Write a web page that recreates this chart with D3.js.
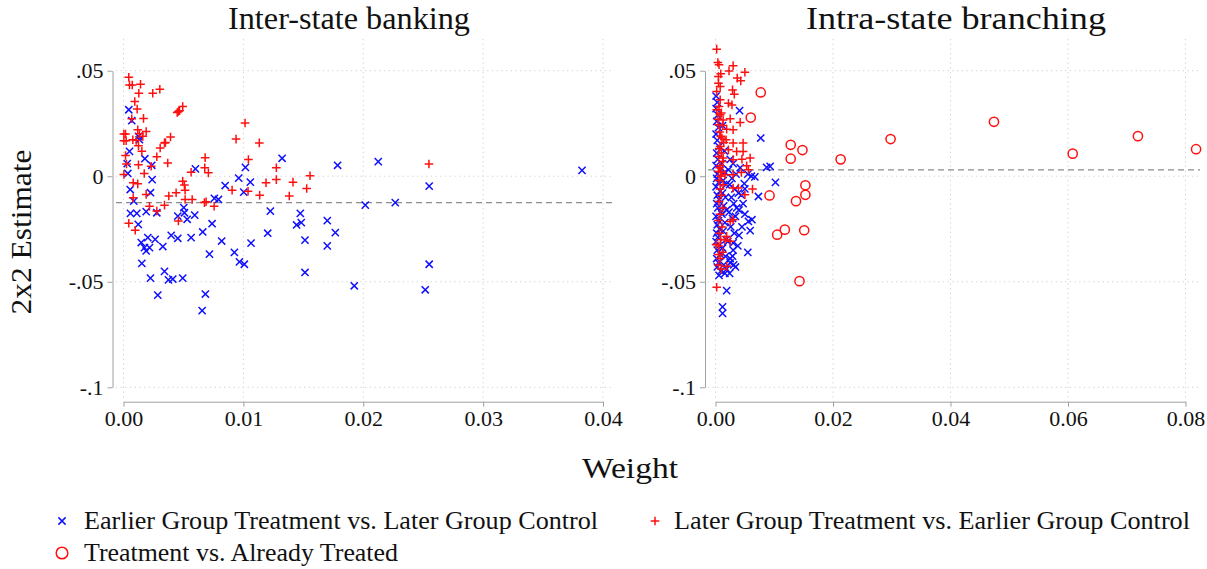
<!DOCTYPE html>
<html>
<head>
<meta charset="utf-8">
<script src="https://cdn.jsdelivr.net/npm/d3@7"></script>
<style>
  html, body { margin: 0; padding: 0; background: #fff; }
  svg { display: block; font-family: "Liberation Serif", "DejaVu Serif", serif; }
  svg text { font-family: "Liberation Serif", "DejaVu Serif", serif; }
</style>
</head>
<body>
<svg id="chart" width="1207" height="569"></svg>
<script>
// ==============================
// DATA  ([weight, 2x2 estimate])
// ==============================
const panelTitles = ["Inter-state banking", "Intra-state branching"];
const legendLabels = [
    "Earlier Group Treatment vs. Later Group Control",
    "Later Group Treatment vs. Earlier Group Control",
    "Treatment vs. Already Treated"
];

const yTicks = [0.05, 0, -0.05, -0.1];
const yTickLabels = [".05", "0", "-.05", "-.1"];
const leftXTicks = [0, 0.01, 0.02, 0.03, 0.04];
const rightXTicks = [0, 0.02, 0.04, 0.06, 0.08];

// weighted average (dashed line)
const leftAvg = -0.0125;
const rightAvg = 0.003;

const leftEarlier = [
    [.00044, .0315], [.00069, .0263], [.0005, .0118], [.00031, .0060], [.00036, .0013],
    [.00056, -.0063], [.00086, -.0118], [.00125, .0189], [.00133, .0173], [.00178, .0083],
    [.00236, .0052], [.00239, -.0016], [.00225, -.0078], [.00058, -.0176], [.00111, -.0176],
    [.00123, -.0228], [.00189, -.0168], [.00278, -.0173], [.00148, -.0314], [.00203, -.0291],
    [.00175, -.0338], [.00217, -.0338], [.00189, -.0354], [.00264, -.0299], [.00328, -.0333],
    [.00153, -.0413], [.00225, -.0483], [.00342, -.0451], [.00375, -.0491], [.00411, -.0487],
    [.00494, -.0483], [.00286, -.0563], [.00398, -.0280], [.00453, -.0294], [.00453, -.0189],
    [.00503, -.0149], [.00508, -.0173], [.00531, -.0204], [.00594, -.0184], [.00564, -.0291],
    [.0060, .0035], [.00661, -.0264], [.00739, -.0225], [.00717, -.0369], [.00683, -.0558],
    [.00656, -.0637], [.00758, -.0105], [.00792, -.0110], [.00819, -.0307], [.00848, -.0044],
    [.00925, -.0361], [.00967, -.0406], [.01008, -.0417], [.00961, -.0009], [.01017, .0042],
    [.01003, -.0075], [.01058, -.0028], [.01064, -.0317], [.01203, -.0270], [.01225, -.0165],
    [.01323, .0085], [.01444, -.0231], [.01475, -.0176], [.01483, -.0220], [.01514, -.0303],
    [.01514, -.0456], [.0170, -.0210], [.0170, -.0330], [.01767, -.0267], [.01786, .0052],
    [.01925, -.0519], [.02125, .0069], [.02017, -.0137], [.02267, -.0125], [.0255, -.0047],
    [.0255, -.0417], [.02517, -.0538], [.03825, .0028]
];

const leftLater = [
    [.00044, .0469], [.0005, .0432], [.00073, .0432], [.00142, .0436], [.00128, .0393],
    [.00244, .0393], [.00303, .0412], [.00094, .0354], [.00114, .0318], [.00069, .0272],
    [.00167, .0274], [.00448, .0302], [.00458, .0307], [.00467, .0310], [.00494, .0330],
    [.00003, .0200], [.00017, .0200], [.00003, .0168], [.00022, .0168], [.00119, .0220],
    [.00133, .0201], [.00189, .0212], [.00161, .0189], [.00078, .0173], [.00106, .0170],
    [.00125, .0145], [.00153, .0118], [.00017, .0098], [.00025, .0058], [.00125, .0054],
    [.00173, .0013], [.00003, .0008], [.00231, .0047], [.00278, .0092], [.00306, .0134],
    [.00342, .0158], [.0035, .0160], [.00392, .0186], [.00369, .0063], [.00081, -.0031],
    [.00119, -.0036], [.00081, -.0102], [.00189, -.0086], [.00217, -.0142], [.00278, -.0165],
    [.00342, -.0137], [.00378, -.0094], [.00439, -.0078], [.00494, -.0024], [.00508, -.0042],
    [.00514, -.0066], [.00514, -.0110], [.00573, -.0110], [.00458, -.0212], [.00044, -.0223],
    [.00098, -.0256], [.00564, .0019], [.00681, .0088], [.00678, .0040], [.00708, .0016],
    [.00675, -.0125], [.00689, -.0121], [.00756, -.0142], [.00906, -.0066], [.00939, .0176],
    [.01014, .0252], [.01042, .0079], [.01039, -.0071], [.01133, .0158], [.01189, -.0031],
    [.01136, -.0090], [.01275, .0040], [.01275, -.0016], [.01414, -.0028], [.01383, -.0094],
    [.01528, -.0058], [.01556, .0002], [.02548, .0058]
];

const rightEarlier = [
    // dense core near zero weight
    [.0001, .038], [.0003, .035], [.0001, .032], [.0004, .029], [.0002, .026], [.0005, .023],
    [.0001, .020], [.0003, .017], [.0006, .014], [.0002, .011], [.0004, .008], [.0001, .005],
    [.0007, .003], [.0003, .001], [.0002, -.001], [.0005, -.003], [.0001, -.005], [.0008, -.007],
    [.0003, -.009], [.0006, -.011], [.0002, -.013], [.0004, -.015], [.0009, -.017], [.0001, -.019],
    [.0005, -.021], [.0003, -.023], [.0007, -.025], [.0002, -.027], [.0004, -.029], [.0001, -.031],
    [.0006, -.033], [.0003, -.035], [.0008, -.037], [.0002, -.039], [.0005, -.041], [.0003, -.043],
    [.0009, -.045], [.0006, -.047],
    [.0012, .024], [.0015, .012], [.0011, .006], [.0016, .002], [.0013, -.002], [.0018, -.004],
    [.0012, -.008], [.0017, -.010], [.0014, -.014], [.0019, -.016], [.0011, -.018], [.0016, -.022],
    [.0013, -.026], [.0018, -.030], [.0012, -.034], [.0017, -.038], [.0014, -.042], [.0019, -.044],
    [.0016, -.046],
    [.0025, .008], [.0030, .006], [.0022, .003], [.0035, .001], [.0028, -.001], [.0024, -.004],
    [.0033, -.006], [.0039, -.008], [.0027, -.010], [.0031, -.013], [.0036, -.015], [.0023, -.017],
    [.0029, -.020], [.0034, -.019], [.0040, -.016], [.0026, -.024], [.0032, -.027], [.0021, -.031],
    [.0030, -.035], [.0025, -.039], [.0031, -.042], [.0024, -.046],
    // outer points
    [.0041, .0311], [.0077, .0181], [.0087, .0042], [.0093, .0047], [.0102, -.0029], [.0073, -.0096],
    [.0061, .0000], [.0067, -.0003], [.0059, -.0258], [.0062, -.0206], [.0056, -.0214], [.0055, -.0361],
    [.0034, -.0430], [.0030, -.0316], [.0029, -.0379], [.0025, -.0410], [.0019, -.0542], [.0012, -.0619],
    [.0012, -.0650], [.0047, -.0130], [.0050, -.0180], [.0044, -.0090], [.0042, .0040], [.0055, .0010],
    [.0050, -.0060], [.0045, -.0240], [.0040, -.0280], [.0038, -.0330], [.0049, -.0035]
];

const rightLater = [
    [.0002, .0602], [.0004, .0539], [.0006, .0528], [.0030, .0524], [.0023, .0499], [.0050, .0493],
    [.0009, .0485], [.0005, .0472], [.0037, .0465], [.0043, .0452], [.0005, .0441], [.0008, .0425],
    [.0002, .0401], [.0029, .0409], [.0032, .0389], [.0008, .0362], [.0022, .0346], [.0028, .0338],
    [.0002, .0315], [.0008, .0291], [.0013, .0267], [.0025, .0272], [.0042, .0255], [.0005, .0244],
    [.0019, .0223], [.0030, .0220], [.0011, .0181], [.0018, .0173], [.0030, .0157], [.0047, .0157],
    [.0008, .0141], [.0022, .0125], [.0036, .0117], [.0047, .0117], [.0005, .0094], [.0013, .0086],
    [.0030, .0078], [.0045, .0081], [.0059, .0086], [.0008, .0050], [.0053, .0050], [.0056, .0031],
    [.0005, .0023], [.0016, .0007], [.0030, .0007], [.0044, .0018],
    [.0006, .033], [.0010, .030], [.0004, .027], [.0012, .024], [.0007, .021], [.0009, .019],
    [.0014, .016], [.0006, .013], [.0010, .011], [.0012, .007], [.0007, .004], [.0011, .002],
    [.0009, .000], [.0006, -.002], [.0013, -.004], [.0008, -.006], [.0010, -.009], [.0006, -.012],
    [.0012, -.015], [.0008, -.018], [.0005, -.021], [.0011, -.024], [.0007, -.027], [.0009, -.030],
    [.0006, -.033], [.0012, -.036], [.0008, -.039], [.0005, -.042], [.0010, -.044],
    [.0063, -.0061], [.0050, -.0088], [.0039, -.0056], [.0030, -.0056], [.0030, -.0206], [.0025, -.0214],
    [.0002, -.0526], [.0019, -.0427], [.0019, -.0285], [.0016, -.0301], [.0001, -.0324], [.0005, -.0371],
    [.0025, -.0308]
];

const rightAlready = [
    [.0077, .0397], [.0060, .0278], [.0128, .0149], [.0128, .0083], [.0148, .0124],
    [.0213, .0080], [.0298, .0176], [.0474, .0258], [.0608, .0107], [.0719, .0190],
    [.0818, .0128], [.0153, -.0043], [.0153, -.0088], [.0137, -.0118], [.0092, -.0091],
    [.0105, -.0277], [.0118, -.0253], [.0151, -.0256], [.0143, -.0497]
];

// ==============================
// CONFIGURATION
// ==============================
const BLUE = "#1010ff";
const RED = "#ff1010";
const GRID = "#cfcfcf";
const AXIS = "#a0a0a0";
const FONT = "Liberation Serif";

const plotTop = 39, plotBottom = 398;
const panels = [
    { title: panelTitles[0], titleX: 349, titleW: 242, xTicks: leftXTicks, xFmt: d3.format(".2f"),
      xRange: [123.5, 603], plotX: [116, 614], axisX: 112.5, avg: leftAvg,
      series: [leftEarlier, leftLater, []] },
    { title: panelTitles[1], titleX: 956, titleW: 300, xTicks: rightXTicks, xFmt: d3.format(".2f"),
      xRange: [715.5, 1185.5], plotX: [708, 1200], axisX: 705, avg: rightAvg,
      series: [rightEarlier, rightLater, rightAlready] }
];

const svg = d3.select("#chart");
const yScale = d3.scaleLinear().domain([-0.1, 0.05]).range([387.3, 70.7]);

// ==============================
// MARKERS
// ==============================
function crossPath(s) { return `M${-s},${-s}L${s},${s}M${-s},${s}L${s},${-s}`; }
function plusPath(s) { return `M${-s},0L${s},0M0,${-s}L0,${s}`; }

function drawMarker(g, kind, size) {
    if (kind === 0) {
        g.append("path").attr("d", crossPath(size)).attr("stroke", BLUE)
            .attr("stroke-width", 1.5).attr("fill", "none");
    } else if (kind === 1) {
        g.append("path").attr("d", plusPath(size + 0.7)).attr("stroke", RED)
            .attr("stroke-width", 1.5).attr("fill", "none");
    } else {
        g.append("circle").attr("r", size + 1).attr("stroke", RED)
            .attr("stroke-width", 1.5).attr("fill", "none");
    }
}

// ==============================
// PANELS
// ==============================
panels.forEach(p => {
    const xScale = d3.scaleLinear().domain(d3.extent(p.xTicks)).range(p.xRange);
    const g = svg.append("g");

    // gridlines
    g.selectAll(".hgrid").data(yTicks).enter().append("line")
        .attr("x1", p.plotX[0]).attr("x2", p.plotX[1])
        .attr("y1", d => yScale(d)).attr("y2", d => yScale(d))
        .attr("stroke", GRID).attr("stroke-width", 1).attr("stroke-dasharray", "1.2,3.5");
    g.selectAll(".vgrid").data(p.xTicks).enter().append("line")
        .attr("x1", d => xScale(d)).attr("x2", d => xScale(d))
        .attr("y1", plotTop).attr("y2", plotBottom)
        .attr("stroke", GRID).attr("stroke-width", 1).attr("stroke-dasharray", "1.2,3.5");

    // weighted average line
    g.append("line")
        .attr("x1", p.plotX[0]).attr("x2", p.plotX[1])
        .attr("y1", yScale(p.avg)).attr("y2", yScale(p.avg))
        .attr("stroke", "#8c8c8c").attr("stroke-width", 1.2).attr("stroke-dasharray", "6,4");

    // y axis
    const yAxis = g.append("g").attr("transform", `translate(${p.axisX},0)`)
        .call(d3.axisLeft(yScale).tickValues(yTicks).tickSize(5).tickSizeOuter(0)
            .tickPadding(4).tickFormat((d, i) => yTickLabels[i]));
    // x axis
    const xAxis = g.append("g").attr("transform", `translate(0,401.7)`)
        .call(d3.axisBottom(xScale).tickValues(p.xTicks).tickSize(5).tickSizeOuter(0)
            .tickPadding(4).tickFormat(p.xFmt));
    [yAxis, xAxis].forEach(a => {
        a.attr("font-family", FONT).attr("font-size", 22);
        a.select(".domain").attr("stroke", AXIS);
        a.selectAll(".tick line").attr("stroke", AXIS);
        a.selectAll("text").attr("fill", "#111");
    });

    // points
    p.series.forEach((data, k) => {
        g.selectAll(".pt" + k).data(data).enter().append("g")
            .attr("transform", d => `translate(${xScale(d[0])},${yScale(d[1])})`)
            .each(function () { drawMarker(d3.select(this), k, 3.6); });
    });

    // panel title
    svg.append("text").attr("x", p.titleX).attr("y", 29)
        .attr("text-anchor", "middle").attr("font-size", 31).attr("fill", "#111")
        .attr("textLength", p.titleW).attr("lengthAdjust", "spacingAndGlyphs")
        .text(p.title);
});

// ==============================
// AXIS TITLES
// ==============================
svg.append("text").attr("x", 630).attr("y", 478).attr("text-anchor", "middle")
    .attr("font-size", 30).attr("fill", "#111")
    .attr("textLength", 96).attr("lengthAdjust", "spacingAndGlyphs").text("Weight");
svg.append("text").attr("transform", "translate(31,232) rotate(-90)")
    .attr("text-anchor", "middle").attr("font-size", 29).attr("fill", "#111")
    .attr("textLength", 165).attr("lengthAdjust", "spacingAndGlyphs")
    .text("2x2 Estimate");

// ==============================
// LEGEND
// ==============================
const legendItems = [
    { kind: 0, x: 62, y: 521, w: 514 },
    { kind: 1, x: 655, y: 521, w: 516 },
    { kind: 2, x: 62, y: 553, w: 314 }
];
legendItems.forEach((item, i) => {
    const lg = svg.append("g").attr("transform", `translate(${item.x},${item.y})`);
    drawMarker(lg, item.kind, item.kind === 2 ? 4.8 : 3.6);
    lg.append("text").attr("x", item.kind === 1 ? 19 : 22).attr("y", 8)
        .attr("font-size", 25).attr("fill", "#111")
        .attr("textLength", item.w).attr("lengthAdjust", "spacingAndGlyphs")
        .text(legendLabels[i]);
});
</script>
</body>
</html>
